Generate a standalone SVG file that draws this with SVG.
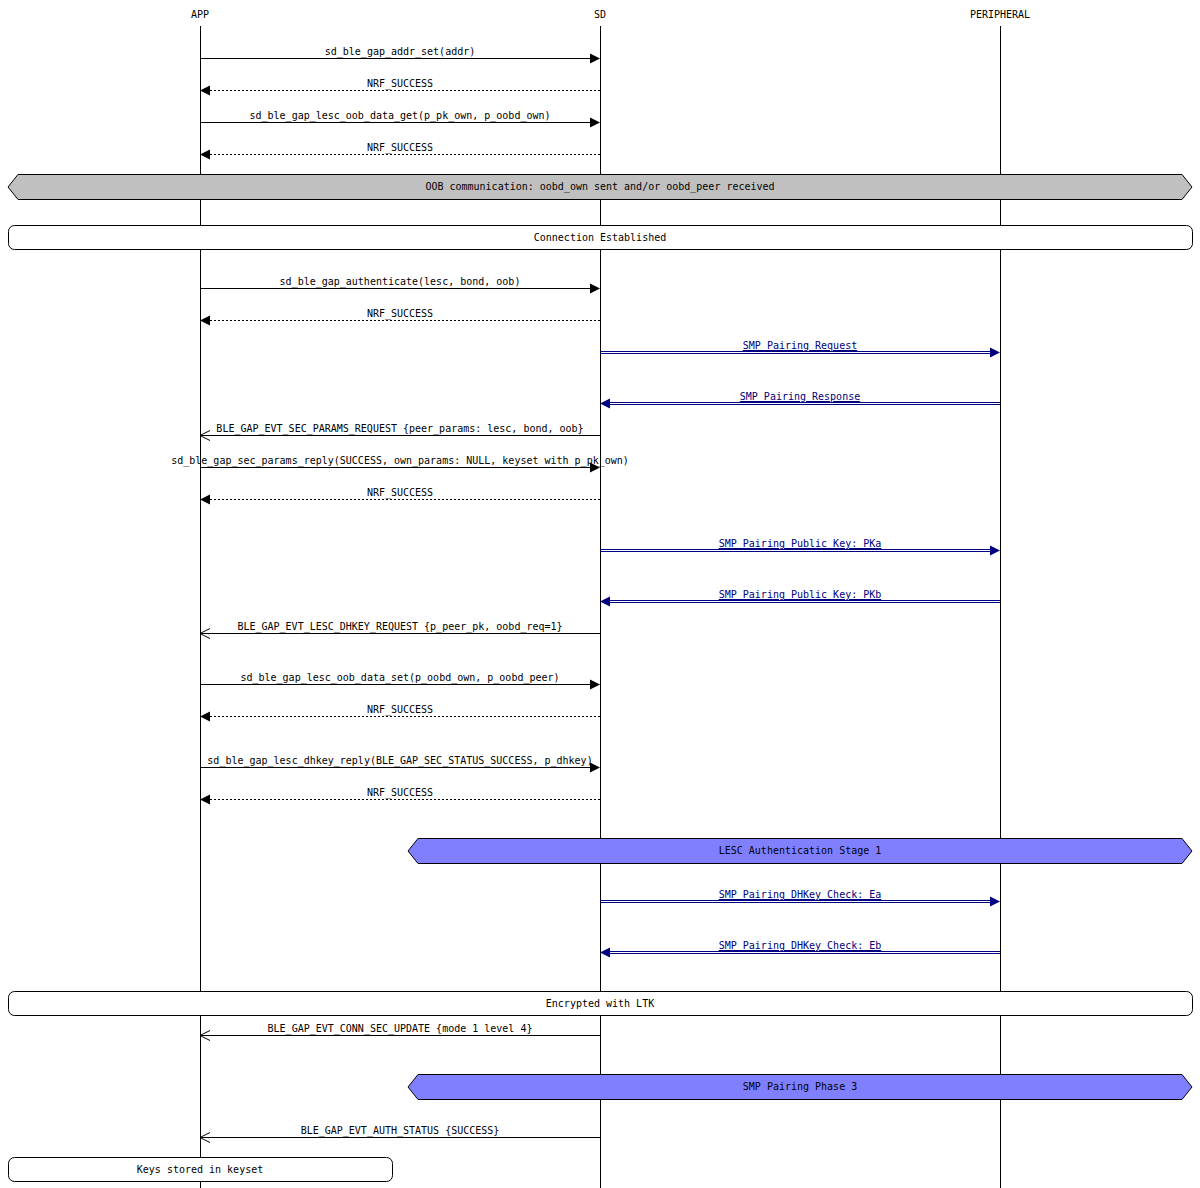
<svg xmlns="http://www.w3.org/2000/svg" width="1200" height="1188" viewBox="0 0 1200 1188">
<style>
text{font-family:"DejaVu Sans Mono","Liberation Mono",monospace;font-size:10px;text-anchor:middle;fill:#000}
.b{fill:#000080;text-decoration:underline}
.l{stroke:#000;stroke-width:1;fill:none}
.d{stroke:#000;stroke-width:1;stroke-dasharray:2,2;fill:none}
.u{stroke:#000080;stroke-width:1;fill:none}
.f{fill:#000}
.fb{fill:#000080}
.o{stroke:#000;fill:none}
</style>
<rect width="1200" height="1188" fill="#fff"/>
<g id="lifelines">
<text x="200" y="18">APP</text><text x="600" y="18">SD</text><text x="1000" y="18">PERIPHERAL</text>
<line class="l" x1="200.5" y1="26" x2="200.5" y2="1188"/>
<line class="l" x1="600.5" y1="26" x2="600.5" y2="1188"/>
<line class="l" x1="1000.5" y1="26" x2="1000.5" y2="1188"/>
</g>
<g id="boxes">
<g id="oob"><polygon points="18,174.5 1182,174.5 1192,187 1182,199.5 18,199.5 8,187" fill="#c0c0c0" stroke="#000"/><text x="600" y="190">OOB communication: oobd_own sent and/or oobd_peer received</text></g>
<g id="conn"><rect x="8.5" y="225.5" width="1184" height="24" rx="6" fill="#fff" stroke="#000"/><text x="600" y="241">Connection Established</text></g>
<g id="lesc1"><polygon points="418,838.5 1182,838.5 1192,851 1182,863.5 418,863.5 408,851" fill="#8080ff" stroke="#000"/><text x="800" y="854">LESC Authentication Stage 1</text></g>
<g id="enc"><rect x="8.5" y="991.5" width="1184" height="24" rx="6" fill="#fff" stroke="#000"/><text x="600" y="1007">Encrypted with LTK</text></g>
<g id="phase3"><polygon points="418,1074.5 1182,1074.5 1192,1087 1182,1099.5 418,1099.5 408,1087" fill="#8080ff" stroke="#000"/><text x="800" y="1090">SMP Pairing Phase 3</text></g>
<g id="keys"><rect x="8.5" y="1157.5" width="384" height="24" rx="6" fill="#fff" stroke="#000"/><text x="200" y="1173">Keys stored in keyset</text></g>
</g>
<g id="connectors">
<line class="l" x1="200" y1="58.5" x2="590" y2="58.5"/><polygon class="f" points="600,58.5 590,53.5 590,63.5"/><text x="400" y="55">sd_ble_gap_addr_set(addr)</text>
<line class="d" x1="210" y1="90.5" x2="600" y2="90.5"/><polygon class="f" points="200,90.5 210,85.5 210,95.5"/><text x="400" y="87">NRF_SUCCESS</text>
<line class="l" x1="200" y1="122.5" x2="590" y2="122.5"/><polygon class="f" points="600,122.5 590,117.5 590,127.5"/><text x="400" y="119">sd_ble_gap_lesc_oob_data_get(p_pk_own, p_oobd_own)</text>
<line class="d" x1="210" y1="154.5" x2="600" y2="154.5"/><polygon class="f" points="200,154.5 210,149.5 210,159.5"/><text x="400" y="151">NRF_SUCCESS</text>
<line class="l" x1="200" y1="288.5" x2="590" y2="288.5"/><polygon class="f" points="600,288.5 590,283.5 590,293.5"/><text x="400" y="285">sd_ble_gap_authenticate(lesc, bond, oob)</text>
<line class="d" x1="210" y1="320.5" x2="600" y2="320.5"/><polygon class="f" points="200,320.5 210,315.5 210,325.5"/><text x="400" y="317">NRF_SUCCESS</text>
<line class="u" x1="600" y1="351.5" x2="990" y2="351.5"/><line class="u" x1="600" y1="353.5" x2="990" y2="353.5"/><polygon class="fb" points="1000,352.5 990,347.5 990,357.5"/><text class="b" x="800" y="349">SMP Pairing Request</text>
<line class="u" x1="610" y1="402.5" x2="1000" y2="402.5"/><line class="u" x1="610" y1="404.5" x2="1000" y2="404.5"/><polygon class="fb" points="600,403.5 610,398.5 610,408.5"/><text class="b" x="800" y="400">SMP Pairing Response</text>
<line class="l" x1="200" y1="435.5" x2="600" y2="435.5"/><polyline class="o" points="210,430.5 200,435.5 210,440.5"/><text x="400" y="432">BLE_GAP_EVT_SEC_PARAMS_REQUEST {peer_params: lesc, bond, oob}</text>
<line class="l" x1="200" y1="467.5" x2="590" y2="467.5"/><polygon class="f" points="600,467.5 590,462.5 590,472.5"/><text x="400" y="464">sd_ble_gap_sec_params_reply(SUCCESS, own_params: NULL, keyset with p_pk_own)</text>
<line class="d" x1="210" y1="499.5" x2="600" y2="499.5"/><polygon class="f" points="200,499.5 210,494.5 210,504.5"/><text x="400" y="496">NRF_SUCCESS</text>
<line class="u" x1="600" y1="549.5" x2="990" y2="549.5"/><line class="u" x1="600" y1="551.5" x2="990" y2="551.5"/><polygon class="fb" points="1000,550.5 990,545.5 990,555.5"/><text class="b" x="800" y="547">SMP Pairing Public Key: PKa</text>
<line class="u" x1="610" y1="600.5" x2="1000" y2="600.5"/><line class="u" x1="610" y1="602.5" x2="1000" y2="602.5"/><polygon class="fb" points="600,601.5 610,596.5 610,606.5"/><text class="b" x="800" y="598">SMP Pairing Public Key: PKb</text>
<line class="l" x1="200" y1="633.5" x2="600" y2="633.5"/><polyline class="o" points="210,628.5 200,633.5 210,638.5"/><text x="400" y="630">BLE_GAP_EVT_LESC_DHKEY_REQUEST {p_peer_pk, oobd_req=1}</text>
<line class="l" x1="200" y1="684.5" x2="590" y2="684.5"/><polygon class="f" points="600,684.5 590,679.5 590,689.5"/><text x="400" y="681">sd_ble_gap_lesc_oob_data_set(p_oobd_own, p_oobd_peer)</text>
<line class="d" x1="210" y1="716.5" x2="600" y2="716.5"/><polygon class="f" points="200,716.5 210,711.5 210,721.5"/><text x="400" y="713">NRF_SUCCESS</text>
<line class="l" x1="200" y1="767.5" x2="590" y2="767.5"/><polygon class="f" points="600,767.5 590,762.5 590,772.5"/><text x="400" y="764">sd_ble_gap_lesc_dhkey_reply(BLE_GAP_SEC_STATUS_SUCCESS, p_dhkey)</text>
<line class="d" x1="210" y1="799.5" x2="600" y2="799.5"/><polygon class="f" points="200,799.5 210,794.5 210,804.5"/><text x="400" y="796">NRF_SUCCESS</text>
<line class="u" x1="600" y1="900.5" x2="990" y2="900.5"/><line class="u" x1="600" y1="902.5" x2="990" y2="902.5"/><polygon class="fb" points="1000,901.5 990,896.5 990,906.5"/><text class="b" x="800" y="898">SMP Pairing DHKey Check: Ea</text>
<line class="u" x1="610" y1="951.5" x2="1000" y2="951.5"/><line class="u" x1="610" y1="953.5" x2="1000" y2="953.5"/><polygon class="fb" points="600,952.5 610,947.5 610,957.5"/><text class="b" x="800" y="949">SMP Pairing DHKey Check: Eb</text>
<line class="l" x1="200" y1="1035.5" x2="600" y2="1035.5"/><polyline class="o" points="210,1030.5 200,1035.5 210,1040.5"/><text x="400" y="1032">BLE_GAP_EVT_CONN_SEC_UPDATE {mode 1 level 4}</text>
<line class="l" x1="200" y1="1137.5" x2="600" y2="1137.5"/><polyline class="o" points="210,1132.5 200,1137.5 210,1142.5"/><text x="400" y="1134">BLE_GAP_EVT_AUTH_STATUS {SUCCESS}</text>
</g>
</svg>
